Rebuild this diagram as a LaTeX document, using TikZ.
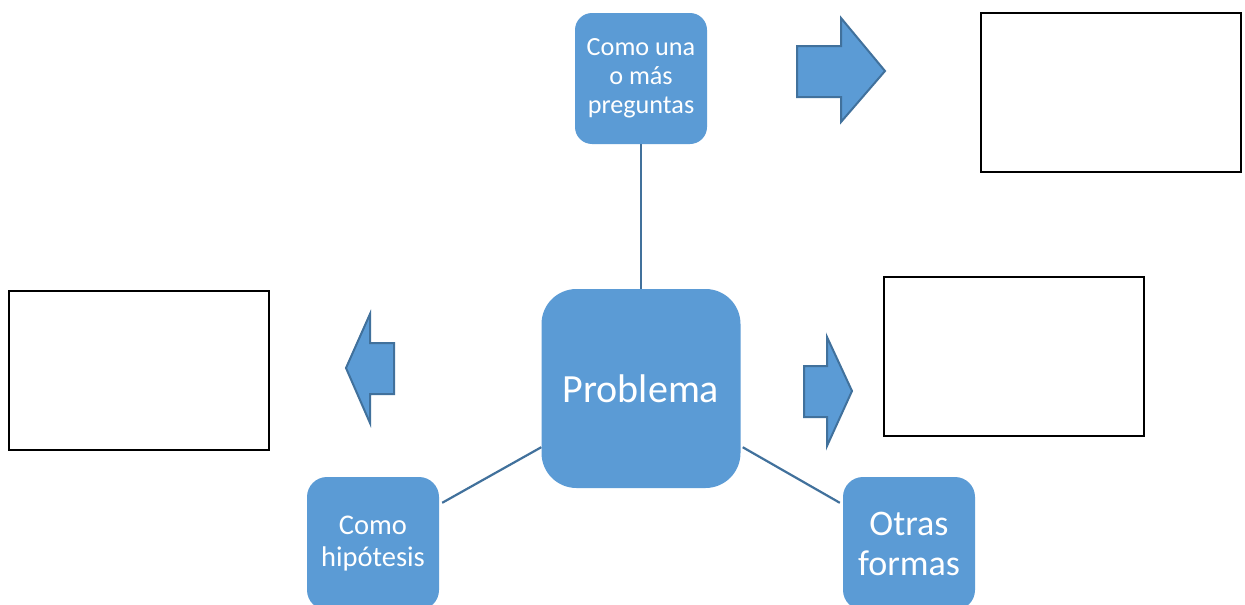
\documentclass[tikz,border=0pt]{standalone}
\usepackage{fontspec}
\setmainfont{Carlito}
\usetikzlibrary{calc}
\definecolor{boxblue}{HTML}{5B9BD5}
\definecolor{edgeblue}{HTML}{41719C}
\tikzset{
  blueblock/.style={rectangle, fill=boxblue, text=white, align=center, inner sep=0pt},
  link/.style={draw=edgeblue, line width=2.2pt},
  blockarrow/.style={fill=boxblue, draw=edgeblue, line width=2pt, line join=miter},
  emptybox/.style={draw=black, line width=1.3pt, fill=white}
}
\begin{document}
\begin{tikzpicture}[x=1pt, y=-1pt]
\useasboundingbox (0,0) rectangle (1245,605);
\clip (0,0) rectangle (1245,605);
\fill[white] (0,0) rectangle (1245,605);

% rounded blue nodes
\node[blueblock, minimum width=132pt, minimum height=131pt, rounded corners=17pt,
      font=\fontsize{26.2}{29}\selectfont] (top) at (641,78.5) {Como una\\o más\\preguntas};
\node[blueblock, minimum width=199pt, minimum height=199pt, rounded corners=35pt,
      font=\fontsize{40}{44}\selectfont] (center) at (641,388.5) {Problema};
\node[blueblock, minimum width=132pt, minimum height=133pt, rounded corners=20pt,
      font=\fontsize{28.5}{32}\selectfont] (hyp) at (373,543.5) {Como\\hipótesis};
\node[blueblock, minimum width=132pt, minimum height=133pt, rounded corners=20pt,
      font=\fontsize{36}{40}\selectfont] (otras) at (909,543.5) {Otras\\formas};

% connector end points
\coordinate (cl) at ($(center.south west)+(0,-41)$);
\coordinate (cr) at ($(center.south east)+(2,-41)$);
\coordinate (hl) at ($(hyp.north east)+(3,26)$);
\coordinate (or) at ($(otras.north west)+(-3,26)$);

\draw[link] (top.south) -- (center.north);
\draw[link] (cl) -- (hl);
\draw[link] (cr) -- (or);

% block arrows
\draw[blockarrow] (797,46) -- (841,46) -- (841,18) -- (885,71) -- (841,122) -- (841,97) -- (797,97) -- cycle;
\draw[blockarrow] (394,343) -- (370,343) -- (370,314) -- (346,368) -- (370,423) -- (370,394) -- (394,394) -- cycle;
\draw[blockarrow] (804,366) -- (827,366) -- (827,337) -- (852,391) -- (827,446) -- (827,417) -- (804,417) -- cycle;

% empty rectangles
\draw[emptybox] (981,13) rectangle (1241,172);
\draw[emptybox] (884,277) rectangle (1144,436);
\draw[emptybox] (9,291) rectangle (269,450);
\end{tikzpicture}
\end{document}
